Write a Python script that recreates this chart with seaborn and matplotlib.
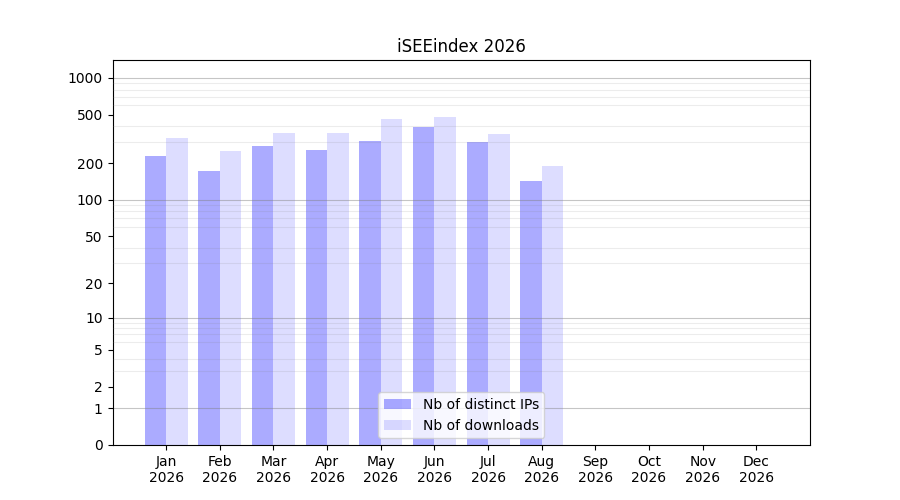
import numpy as np
import pandas as pd
import matplotlib
matplotlib.use("Agg")
import matplotlib.pyplot as plt
import seaborn as sns
from matplotlib.ticker import FixedLocator, NullFormatter

# Monthly figures
months = ["Jan", "Feb", "Mar", "Apr", "May", "Jun", "Jul", "Aug", "Sep", "Oct", "Nov", "Dec"]
year = "2026"
distinct_ips = [230, 171, 277, 257, 305, 397, 299, 143, 0, 0, 0, 0]
downloads = [323, 252, 355, 355, 462, 480, 348, 190, 0, 0, 0, 0]
series_names = ["Nb of distinct IPs", "Nb of downloads"]

# Axis ticks
y_ticks = [0, 1, 2, 5, 10, 20, 50, 100, 200, 500, 1000]
decades = [1, 10, 100, 1000]

labels = [f"{m}\n{year}" for m in months]
df = pd.DataFrame({
    "month": labels * 2,
    "value": distinct_ips + downloads,
    "series": [series_names[0]] * 12 + [series_names[1]] * 12,
})

fig, ax = plt.subplots(figsize=(9, 5), dpi=100)

sns.barplot(data=df, x="month", y="value", hue="series", order=labels,
            hue_order=series_names, palette=["blue", "blue"], saturation=1,
            linewidth=0, width=0.8, ax=ax)

# transparency per series
for cont, a in zip(ax.containers, [0.33, 0.133]):
    for p in cont:
        p.set_alpha(a)

ax.set_yscale("function", functions=(lambda v: np.log10(np.maximum(v, 0) + 1),
                                     lambda v: 10 ** v - 1))
ax.set_ylim(0, 1400)
ax.set_xlim(-1, 12)

ax.yaxis.set_major_locator(FixedLocator(y_ticks))
ax.set_yticklabels([str(t) for t in y_ticks])
minor = [m * d for d in [1, 10, 100] for m in range(2, 10)]
ax.yaxis.set_minor_locator(FixedLocator(minor))
ax.yaxis.set_minor_formatter(NullFormatter())
ax.tick_params(axis="y", which="minor", length=0)
ax.set_axisbelow(False)
ax.grid(False)
ax.grid(True, axis="y", which="minor", color="gray", alpha=0.15, lw=0.8)
for d in decades:
    ax.axhline(d, color="gray", alpha=0.45, lw=0.8)

ax.set_xlabel("")
ax.set_ylabel("")
ax.set_title("iSEEindex 2026")
ax.legend(ax.containers, series_names, loc="lower center")

plt.savefig("out.png")
